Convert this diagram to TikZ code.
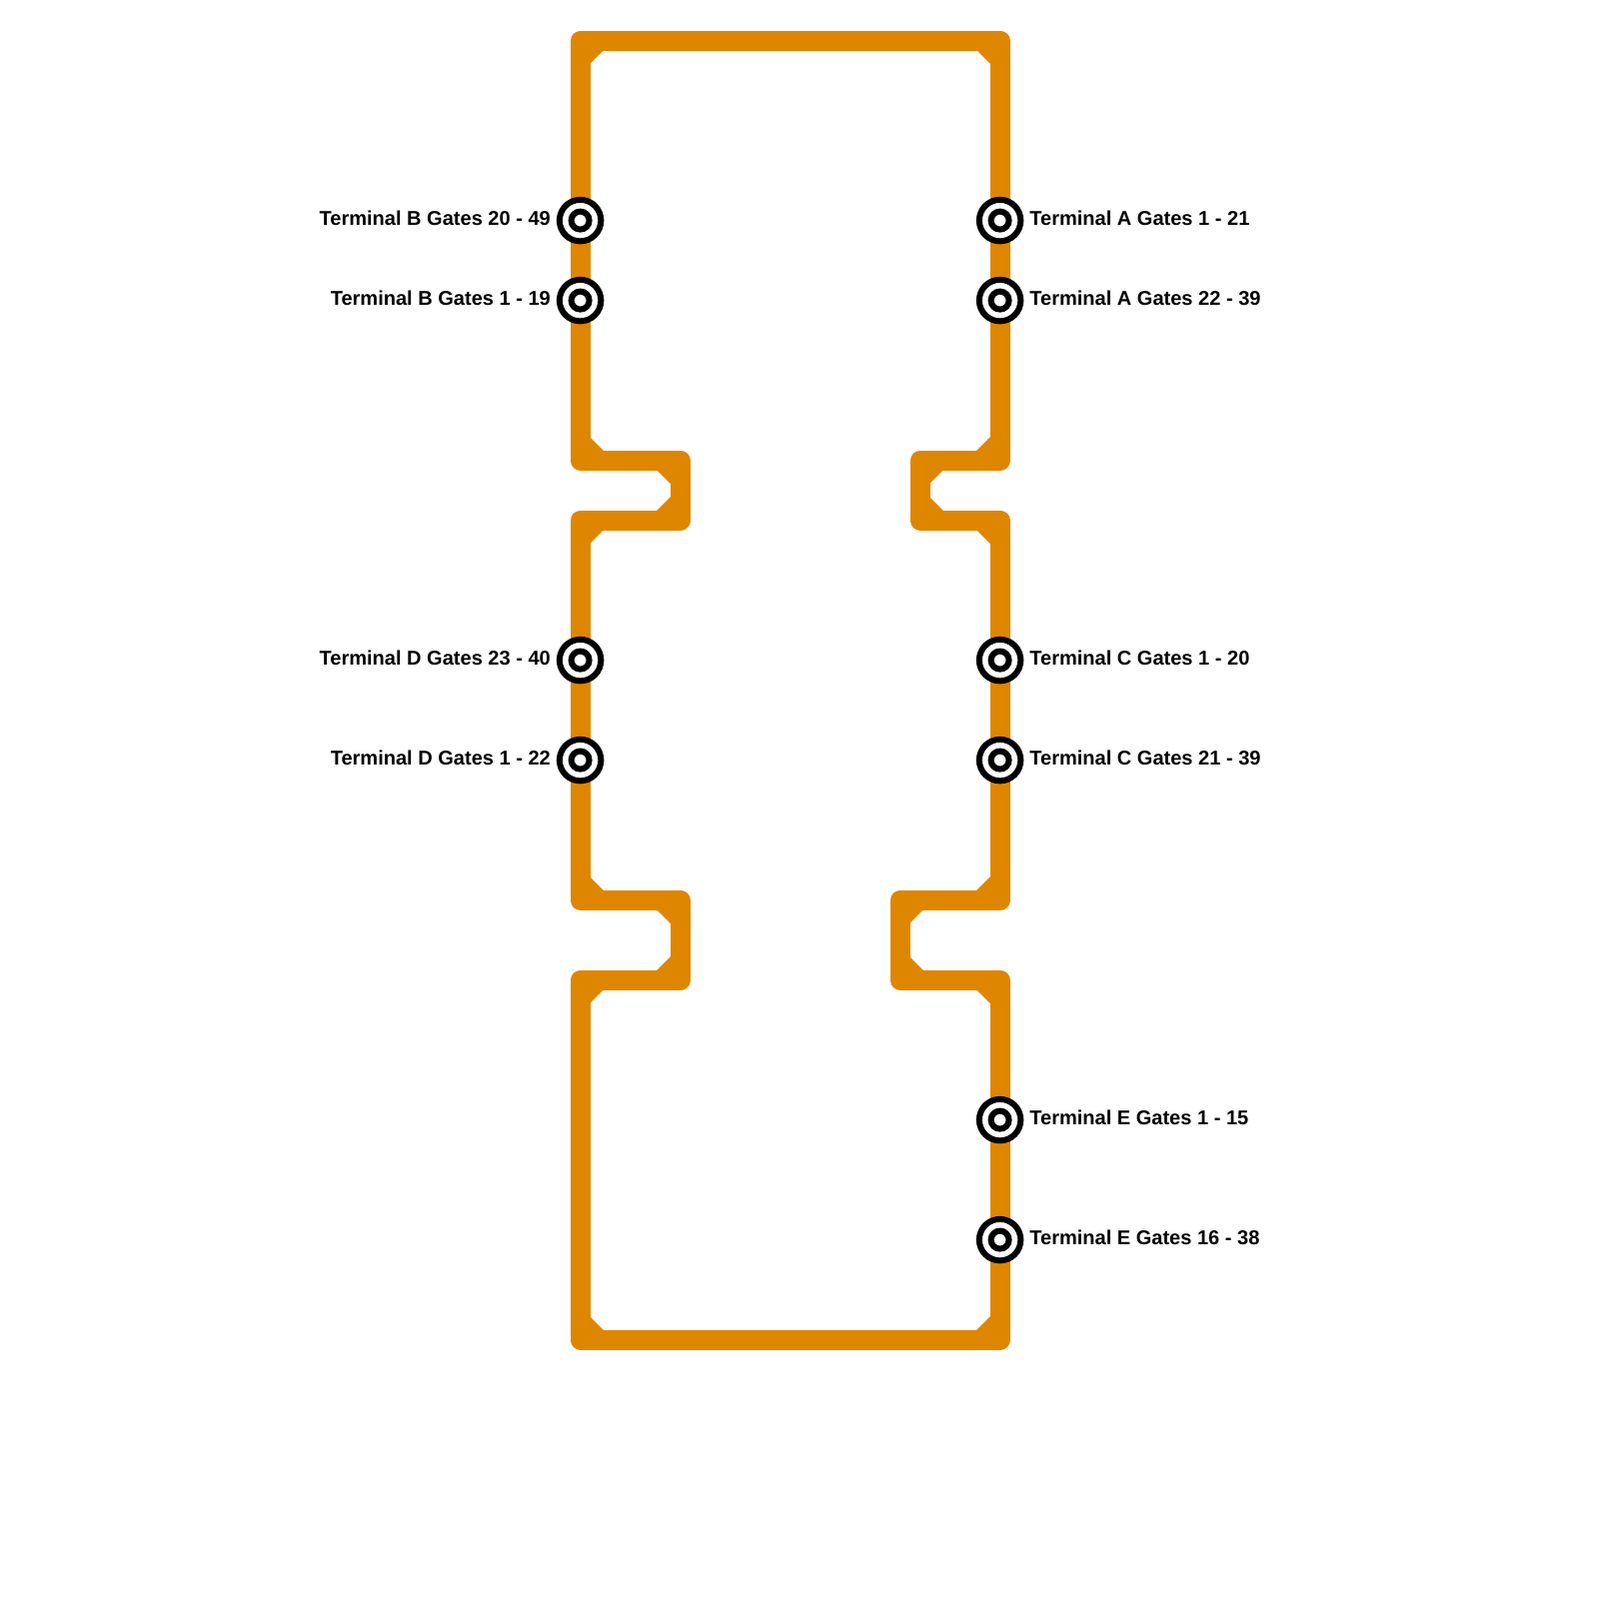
\documentclass[tikz,border=0pt]{standalone}
\usepackage{fontspec}
\setmainfont{Liberation Sans}
\usetikzlibrary{positioning}
\definecolor{lineorange}{HTML}{DF8600}
\tikzset{
  railline/.style={draw=lineorange, line width=2mm, line join=round},
  stationring/.style={circle, draw=black, fill=white, line width=0.6mm, minimum size=4.15mm, inner sep=0pt},
  stationcore/.style={circle, draw=black, fill=white, line width=0.6mm, minimum size=1.8mm, inner sep=0pt},
  termlabel/.style={inner sep=0pt, outer sep=0pt, font=\fontsize{5.7pt}{7pt}\selectfont\bfseries, yshift=0.25mm}
}
\begin{document}
\begin{tikzpicture}[x=0.1mm,y=-0.1mm]
\useasboundingbox (-0.6,-0.6) rectangle (1599.4,1599.4);

\draw[railline] (580,40) -- (1000,40) -- (1000,460) -- (920,460) -- (920,520) -- (1000,520)
  -- (1000,900) -- (900,900) -- (900,980) -- (1000,980) -- (1000,1340) -- (580,1340)
  -- (580,980) -- (680,980) -- (680,900) -- (580,900) -- (580,520) -- (680,520)
  -- (680,460) -- (580,460) -- cycle;

% inner corners
\foreach \x/\y/\dx/\dy in {580/40/1/1, 1000/40/-1/1, 1000/460/-1/-1, 920/460/1/1,
    920/520/1/-1, 1000/520/-1/1, 1000/900/-1/-1, 900/900/1/1, 900/980/1/-1,
    1000/980/-1/1, 1000/1340/-1/-1, 580/1340/1/-1, 580/980/1/1, 680/980/-1/-1,
    680/900/-1/1, 580/900/1/-1, 580/520/1/1, 680/520/-1/-1, 680/460/-1/1, 580/460/1/-1} {
  \fill[lineorange] (\x+9*\dx,\y+9*\dy) -- (\x+24*\dx,\y+9*\dy) -- (\x+9*\dx,\y+24*\dy) -- cycle;
}

\foreach \nm/\y/\txt in {a1/220/Terminal A Gates 1 - 21, a2/300/Terminal A Gates 22 - 39,
    c1/660/Terminal C Gates 1 - 20, c2/760/Terminal C Gates 21 - 39,
    e1/1120/Terminal E Gates 1 - 15, e2/1240/Terminal E Gates 16 - 38} {
  \node[stationring] (\nm) at (1000,\y) {};
  \node[stationcore] (\nm core) at (\nm) {};
  \node[termlabel, right=0.6mm of \nm] (\nm label) {\txt};
}
\foreach \nm/\y/\txt in {b1/220/Terminal B Gates 20 - 49, b2/300/Terminal B Gates 1 - 19,
    d1/660/Terminal D Gates 23 - 40, d2/760/Terminal D Gates 1 - 22} {
  \node[stationring] (\nm) at (580,\y) {};
  \node[stationcore] (\nm core) at (\nm) {};
  \node[termlabel, left=0.6mm of \nm] (\nm label) {\txt};
}

\end{tikzpicture}
\end{document}
